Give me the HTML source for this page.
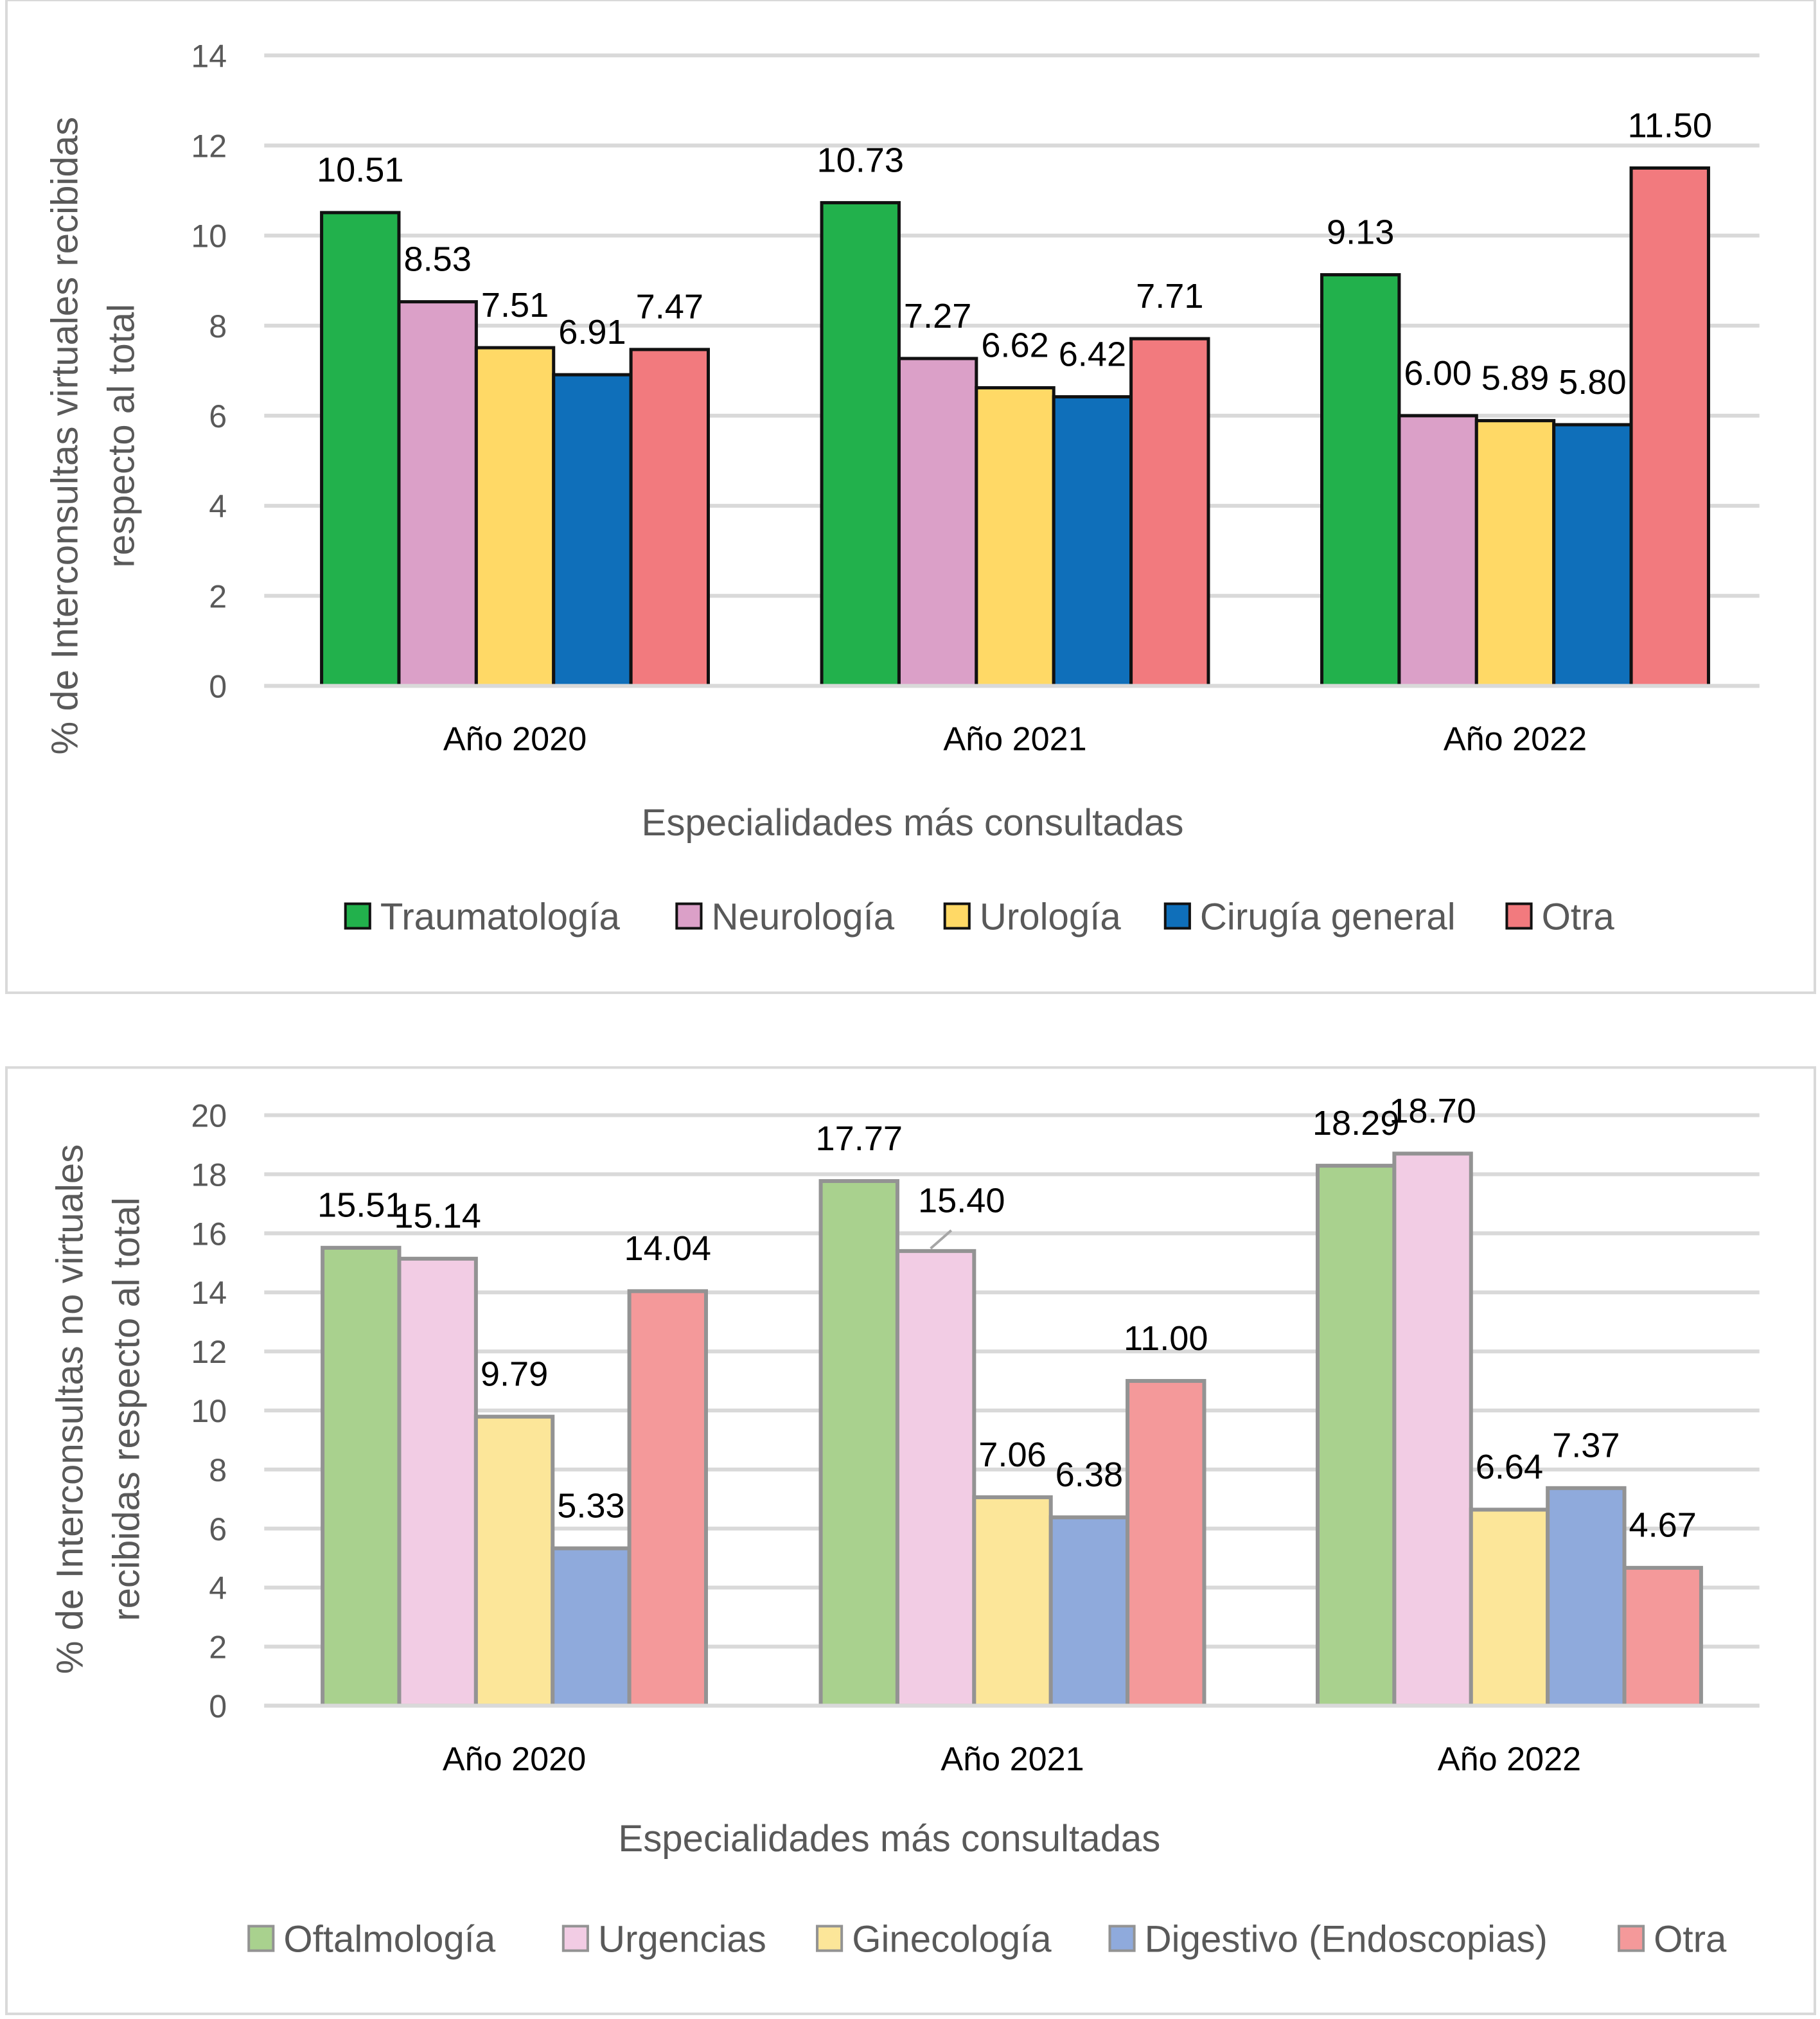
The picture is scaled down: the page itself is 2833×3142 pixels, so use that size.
<!DOCTYPE html>
<html><head><meta charset="utf-8"><style>
html,body{margin:0;padding:0;background:#fff}
svg{display:block}
text{font-family:"Liberation Sans",sans-serif}
</style></head><body>
<svg id="s" width="2833" height="3142" viewBox="0 0 1412 1566" xmlns="http://www.w3.org/2000/svg">
<rect x="5" y="0" width="1403" height="770" fill="#fff" stroke="#d9d9d9" stroke-width="2"/>
<rect x="5" y="828" width="1403" height="734" fill="#fff" stroke="#d9d9d9" stroke-width="2"/>
<g id="c1"></g>
<g id="c2"></g>
</svg>
<script>
const years = ["Año 2020","Año 2021","Año 2022"];
const topSeries = ["Traumatología","Neurología","Urología","Cirugía general","Otra"];
const topValues = [[10.51,10.73,9.13],[8.53,7.27,6.00],[7.51,6.62,5.89],[6.91,6.42,5.80],[7.47,7.71,11.50]];
const topTicks = [0,2,4,6,8,10,12,14];
const botSeries = ["Oftalmología","Urgencias","Ginecología","Digestivo (Endoscopias)","Otra"];
const botValues = [[15.51,17.77,18.29],[15.14,15.40,18.70],[9.79,7.06,6.64],[5.33,6.38,7.37],[14.04,11.00,4.67]];
const botTicks = [0,2,4,6,8,10,12,14,16,18,20];

const NS="http://www.w3.org/2000/svg";
function mk(parent,tag,attrs,txt){const e=document.createElementNS(NS,tag);for(const k in attrs)e.setAttribute(k,attrs[k]);if(txt!==undefined)e.textContent=txt;parent.appendChild(e);return e;}

function draw(g,cfg){
  const y=v=>cfg.y0-(v-cfg.tmin)/(cfg.tmax-cfg.tmin)*(cfg.y0-cfg.y1);
  cfg.ticks.forEach(t=>{
    const l=mk(g,"line",{x1:205,x2:1365,y1:y(t),y2:y(t),stroke:"#d9d9d9","stroke-width":3});
    
    
    const tx=mk(g,"text",{x:176,y:y(t)+9,"text-anchor":"end","font-size":25,fill:"#595959"},t);
    
    
  });
  const bw=cfg.bw;
  years.forEach((yr,i)=>{
    const cx=cfg.centers[i];
    cfg.values.forEach((ser,j)=>{
      const v=ser[i];const x=cx-2.5*bw+j*bw;
      const r=mk(g,"rect",{x:x,y:y(v),width:bw,height:y(0)-y(v),fill:cfg.colors[j],stroke:cfg.stroke,"stroke-width":cfg.sw});
      
      
      let lx=x+bw/2, ly=y(v)-24;
      if(cfg.leader && cfg.leader[0]===j && cfg.leader[1]===i){
        const ln=mk(g,"line",{x1:x+bw/2-4,y1:y(v)-2,x2:x+bw/2+12,y2:y(v)-16,stroke:"#a6a6a6","stroke-width":2});
        
        
        lx=x+bw/2+20; ly=y(v)-30;
      }
      const t=mk(g,"text",{x:lx,y:ly,"text-anchor":"middle","font-size":27,fill:"#000"},v.toFixed(2));
      
      
    });
    const gl=mk(g,"text",{x:cx,y:cfg.catY,"text-anchor":"middle","font-size":26,fill:"#000"},yr);
    
    
  });
  const ax=mk(g,"line",{x1:205,x2:1365,y1:y(0),y2:y(0),stroke:"#d9d9d9","stroke-width":3});
  
  
  const xt=mk(g,"text",{x:cfg.xtX,y:cfg.xtY,"text-anchor":"middle","font-size":29,fill:"#595959"},"Especialidades más consultadas");
  
  
  const yt=mk(g,"text",{transform:`translate(${cfg.ytX},${cfg.ytC}) rotate(-90)`,"text-anchor":"middle","font-size":29,fill:"#595959"});
  
  
  mk(yt,"tspan",{x:0,y:0},cfg.yt[0]);
  mk(yt,"tspan",{x:0,y:44},cfg.yt[1]);
  cfg.legendX.forEach((lx,j)=>{
    const r=mk(g,"rect",{x:lx,y:cfg.legY-10,width:19,height:19,fill:cfg.colors[j],stroke:cfg.stroke,"stroke-width":2});
    
    
    const t=mk(g,"text",{x:lx+27,y:cfg.legY+10,"font-size":29,fill:"#595959"},cfg.series[j]);
    
    
  });
}
draw(document.getElementById('c1'),{tmin:0,tmax:14,y0:532,y1:43,ticks:topTicks,values:topValues,series:topSeries,
  colors:["#22b14c","#dba0c8","#ffd966","#0f6fba","#f27a7e"],stroke:"#111",sw:2.5,bw:60,centers:[399.5,787.5,1175.5],
  catY:582,xtX:708,xtY:648,ytX:60,ytC:338,yt:["% de Interconsultas virtuales recibidas","respecto al total"],legY:711,
  legendX:[268,525,733,904,1169]});
draw(document.getElementById('c2'),{tmin:0,tmax:20,y0:1323,y1:865,ticks:botTicks,values:botValues,series:botSeries,
  colors:["#a9d18e","#f2cce4","#fce699","#8faadc","#f4999a"],stroke:"#939393",sw:3,bw:59.5,centers:[399,785.5,1171],
  catY:1373,xtX:690,xtY:1436,ytX:64,ytC:1093,yt:["% de Interconsultas no virtuales","recibidas respecto al total"],legY:1504,
  legendX:[193,437,634,861,1256],leader:[1,1]});
</script>
</body></html>
